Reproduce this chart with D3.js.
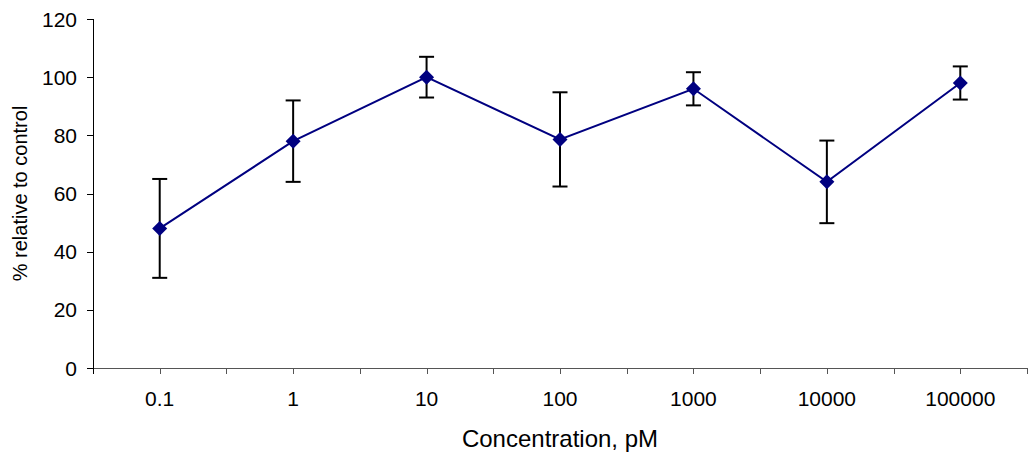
<!DOCTYPE html>
<html>
<head>
<meta charset="utf-8">
<script src="https://cdn.jsdelivr.net/npm/d3@7"></script>
<style>
  body { margin: 0; background: #fff; }
  text { font-family: "Liberation Sans", Arial, sans-serif; fill: #000; }
</style>
</head>
<body>
<svg id="chart" width="1030" height="452"></svg>
<script>
// concentrations (pM) and mean response with error
const concentrations = ["0.1", "1", "10", "100", "1000", "10000", "100000"];
const meanValues = [48, 78, 100, 78.6, 96, 64, 98];
const errorValues = [17, 14, 7, 16.2, 5.7, 14.2, 5.7];
const yTicks = [0, 20, 40, 60, 80, 100, 120];

const data = concentrations.map((c, i) => ({c: c, v: meanValues[i], e: errorValues[i]}));

const svg = d3.select("#chart");
const margin = {left: 93, right: 3, top: 19, bottom: 84};
const width = 1030, height = 452;

const x = d3.scaleBand()
  .domain(concentrations)
  .range([margin.left, width - margin.right]);

const y = d3.scaleLinear()
  .domain([0, 120])
  .range([height - margin.bottom, margin.top]);

const y0 = y(0);

// x axis line
svg.append("line")
  .attr("x1", margin.left).attr("x2", width - margin.right)
  .attr("y1", y0 + 0.5).attr("y2", y0 + 0.5)
  .attr("stroke", "#555").attr("stroke-width", 1.2);

// x ticks at band edges and centres
const xTickPos = [];
concentrations.forEach(c => {
  xTickPos.push(x(c));
  xTickPos.push(x(c) + x.bandwidth() / 2);
});
xTickPos.push(x(concentrations[concentrations.length - 1]) + x.bandwidth());

svg.selectAll(".xtick")
  .data(xTickPos)
  .join("line")
  .attr("x1", d => Math.round(d) + 0.5).attr("x2", d => Math.round(d) + 0.5)
  .attr("y1", y0).attr("y2", y0 + 6)
  .attr("stroke", "#555");

svg.selectAll(".xlabel")
  .data(concentrations)
  .join("text")
  .attr("x", d => x(d) + x.bandwidth() / 2)
  .attr("y", y0 + 38)
  .attr("text-anchor", "middle")
  .attr("font-size", 21)
  .text(d => d);

// y axis
svg.append("line")
  .attr("x1", margin.left + 0.5).attr("x2", margin.left + 0.5)
  .attr("y1", y(120)).attr("y2", y0 + 6)
  .attr("stroke", "#000");

svg.selectAll(".ytick")
  .data(yTicks)
  .join("line")
  .attr("x1", margin.left - 6).attr("x2", margin.left)
  .attr("y1", d => Math.round(y(d)) + 0.5).attr("y2", d => Math.round(y(d)) + 0.5)
  .attr("stroke", "#000");

svg.selectAll(".ylabel")
  .data(yTicks)
  .join("text")
  .attr("x", margin.left - 16)
  .attr("y", d => y(d))
  .attr("dy", "0.36em")
  .attr("text-anchor", "end")
  .attr("font-size", 21)
  .text(d => d);

// axis titles
svg.append("text")
  .attr("x", x.range()[0] + (x.range()[1] - x.range()[0]) / 2)
  .attr("y", 447)
  .attr("text-anchor", "middle")
  .attr("font-size", 24)
  .text("Concentration, pM");

svg.append("text")
  .attr("transform", `translate(27, ${(y(0) + y(120)) / 2}) rotate(-90)`)
  .attr("text-anchor", "middle")
  .attr("font-size", 20)
  .text("% relative to control");

const cx = d => x(d.c) + x.bandwidth() / 2;

// error bars
const eb = svg.append("g").attr("stroke", "#000").attr("stroke-width", 2);
eb.selectAll(".stem").data(data).join("line")
  .attr("x1", cx).attr("x2", cx)
  .attr("y1", d => y(d.v + d.e)).attr("y2", d => y(d.v - d.e));
eb.selectAll(".capt").data(data).join("line")
  .attr("x1", d => cx(d) - 7.5).attr("x2", d => cx(d) + 7.5)
  .attr("y1", d => y(d.v + d.e)).attr("y2", d => y(d.v + d.e));
eb.selectAll(".capb").data(data).join("line")
  .attr("x1", d => cx(d) - 7.5).attr("x2", d => cx(d) + 7.5)
  .attr("y1", d => y(d.v - d.e)).attr("y2", d => y(d.v - d.e));

// line
svg.append("path")
  .datum(data)
  .attr("fill", "none")
  .attr("stroke", "#000080")
  .attr("stroke-width", 2)
  .attr("d", d3.line().x(cx).y(d => y(d.v)));

// diamond markers
svg.selectAll(".pt").data(data).join("path")
  .attr("transform", d => `translate(${cx(d)},${y(d.v)})`)
  .attr("d", "M0,-7.5L7.5,0L0,7.5L-7.5,0Z")
  .attr("fill", "#000080");
</script>
</body>
</html>
